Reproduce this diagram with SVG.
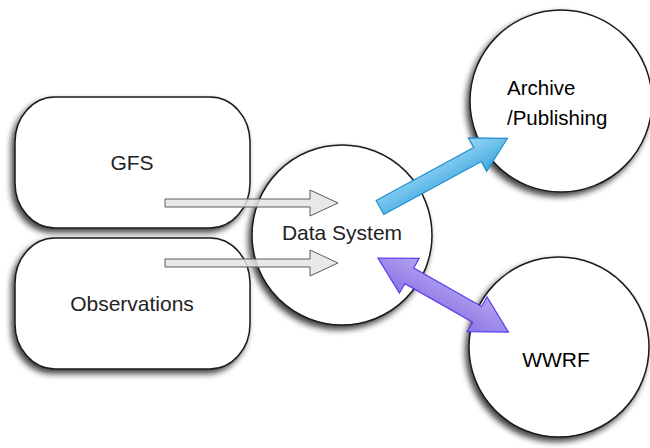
<svg xmlns="http://www.w3.org/2000/svg" width="650" height="448" viewBox="0 0 650 448">
  <style>
    .box { fill: #ffffff; stroke: #1a1a1a; stroke-width: 1.5; filter: url(#shadow); }
    .lbl { font-family: "Liberation Sans", Arial, sans-serif; font-size: 21px; fill: #222; text-anchor: middle; }
    .lbl2 { font-family: "Liberation Sans", Arial, sans-serif; font-size: 20.5px; fill: #000; }
    .flow { fill: #e4e4e4; fill-opacity: 0.85; stroke: #5a5a5a; stroke-width: 1; }
  </style>
  <defs>
    <filter id="shadow" x="-20%" y="-20%" width="140%" height="140%">
      <feGaussianBlur in="SourceAlpha" stdDeviation="3"/>
      <feOffset dx="-3" dy="4" result="b"/>
      <feComponentTransfer><feFuncA type="linear" slope="0.75"/></feComponentTransfer>
      <feMerge><feMergeNode/><feMergeNode in="SourceGraphic"/></feMerge>
    </filter>
    <linearGradient id="blueFill" x1="0" y1="0" x2="0" y2="1">
      <stop offset="0" stop-color="#9ad6f5"/>
      <stop offset="1" stop-color="#3fa9e0"/>
    </linearGradient>
    <linearGradient id="purpleFill" x1="0" y1="0" x2="0" y2="1">
      <stop offset="0" stop-color="#b3a4f0"/>
      <stop offset="1" stop-color="#8c74e4"/>
    </linearGradient>
  </defs>

  <g id="gfs">
    <rect class="box" x="15" y="97" width="235" height="131" rx="40" ry="45"/>
    <text class="lbl" x="132" y="170">GFS</text>
  </g>

  <g id="observations">
    <rect class="box" x="15" y="238" width="235" height="131" rx="40" ry="45"/>
    <text class="lbl" x="132" y="311">Observations</text>
  </g>

  <g id="data-system">
    <circle class="box" cx="342" cy="235" r="90"/>
    <text class="lbl" x="342" y="240">Data System</text>
  </g>

  <g id="archive">
    <circle class="box" cx="561" cy="101" r="91"/>
    <text class="lbl2" x="507" y="95">Archive</text>
    <text class="lbl2" x="507" y="125">/Publishing</text>
  </g>

  <g id="wwrf">
    <circle class="box" cx="559" cy="347" r="90"/>
    <text class="lbl" x="556" y="367" style="fill:#000">WWRF</text>
  </g>

  <g id="connectors">
    <!-- inputs into the data system -->
    <polygon class="flow" points="165,199 310,199 310,190 338,203 310,216 310,207 165,207"/>
    <polygon class="flow" points="165,259 310,259 310,250 338,263 310,276 310,267 165,267"/>
    <!-- data system to archive -->
    <polygon transform="translate(380,207.5) rotate(-28.5)" fill="url(#blueFill)" stroke="#1f8fd0" stroke-width="1.2"
             points="0,-8 111,-8 111,-19 145,0 111,19 111,8 0,8"/>
    <!-- data system and WWRF exchange -->
    <polygon transform="translate(378,258) rotate(29.6)" fill="url(#purpleFill)" stroke="#5a3cf0" stroke-width="1.2"
             points="0,0 36,-20 36,-9 114,-9 114,-20 150,0 114,20 114,9 36,9 36,20"/>
  </g>
</svg>
